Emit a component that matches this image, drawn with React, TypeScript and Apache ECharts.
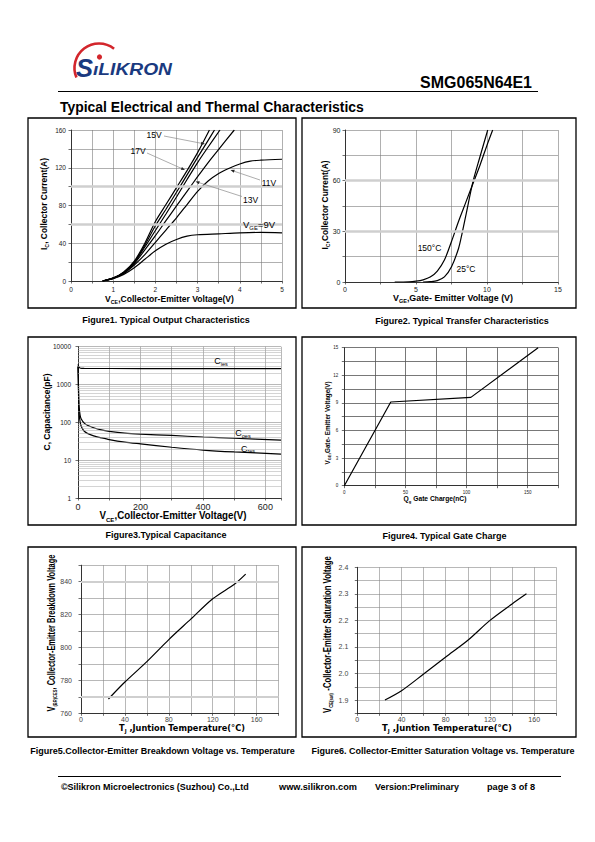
import React, { useEffect, useRef } from "react";
import * as echarts from "echarts";

const FF = '"Liberation Sans", Arial, sans-serif';
const FW = '"DejaVu Sans", Verdana, sans-serif';

// ---------- Figure 1: output characteristics (VCE [V], IC [A]) ----------
const out20V = [[0.75, 0], [1, 3], [1.25, 9.5], [1.5, 21], [1.75, 40], [2, 63], [2.25, 81], [2.5, 99], [2.75, 117], [3, 136], [3.28, 160]];
const out17V = [[0.75, 0], [1, 3], [1.25, 9], [1.5, 20], [1.75, 38], [2, 58.5], [2.25, 76], [2.5, 94], [2.75, 112.5], [3, 131], [3.25, 149], [3.4, 160]];
const out15V = [[0.75, 0], [1, 3], [1.25, 9], [1.5, 19.5], [1.75, 36], [2, 53.5], [2.25, 71], [2.5, 89], [2.75, 107.5], [3, 125.5], [3.25, 142], [3.53, 160]];
const out13V = [[0.75, 0], [1, 3], [1.25, 8.5], [1.5, 18.5], [1.75, 33], [2, 48], [2.25, 64], [2.5, 79.5], [2.75, 95], [3, 110.5], [3.25, 125.5], [3.5, 139.5], [3.87, 160]];
const out11V = [[0.75, 0], [1, 2.8], [1.25, 8], [1.5, 17], [1.75, 28], [2, 41], [2.25, 54], [2.5, 67], [2.75, 81], [3, 95], [3.25, 106], [3.5, 114], [3.75, 119.5], [4, 124], [4.25, 127], [4.5, 128], [5, 129]];
const out9V = [[0.75, 0], [1, 2.5], [1.25, 7], [1.5, 14], [1.75, 23], [2, 32], [2.25, 39], [2.5, 44], [2.75, 47.5], [3, 49], [3.5, 50], [4, 51], [4.5, 51.5], [5, 51]];
const fig1XLabels = [0, 1, 2, 3, 4, 5];
const fig1YLabels = [0, 40, 80, 120, 160];
const fig1Bands = [100, 60];

// ---------- Figure 2: transfer characteristics (VGE [V], IC [A]) ----------
const tr150C = [[3.5, 0], [4.5, 0.1], [5, 0.5], [5.5, 1.3], [6, 2.9], [6.5, 6.5], [7, 13], [7.5, 24], [8, 36], [8.5, 47], [9, 58], [9.5, 69], [10, 81], [10.4, 90]];
const tr25C = [[5.5, 0], [6, 0.2], [6.5, 0.8], [7, 3], [7.5, 9], [8, 20], [8.25, 29], [8.5, 39], [9, 59], [9.5, 74], [10, 88.5], [10.05, 90]];
const fig2XLabels = [0, 5, 10, 15];
const fig2YLabels = [0, 30, 60, 90];
const fig2Bands = [60, 30];

// ---------- Figure 3: capacitance (VCE [V], C [pF]) ----------
const capCies = [[0, 3400], [3, 2900], [8, 2700], [20, 2660], [100, 2650], [300, 2645], [650, 2640]];
const capCoes = [[0, 3000], [1, 1500], [2, 600], [3, 300], [5, 200], [7, 150], [10, 125], [20, 95], [30, 84], [50, 72], [75, 63], [100, 58], [150, 52], [200, 49], [300, 45], [400, 41], [500, 38], [650, 34]];
const capCres = [[0, 3000], [1, 1200], [2, 400], [3, 200], [5, 130], [7, 100], [10, 80], [15, 66], [20, 58], [30, 51], [50, 44], [75, 39], [100, 35], [150, 30], [200, 27], [300, 22], [400, 18.5], [500, 16.5], [650, 14.5]];
const fig3XLabels = [0, 200, 400, 600];
const fig3YLabels = [1, 10, 100, 1000, 10000];
const fig3Minor = [2, 3, 4, 5, 6, 7, 8, 9, 20, 30, 40, 50, 60, 70, 80, 90, 200, 300, 400, 500, 600, 700, 800, 900, 2000, 3000, 4000, 5000, 6000, 7000, 8000, 9000];

// ---------- Figure 4: gate charge (Qg [nC], VGE [V]) ----------
const gateCharge = [[0, 0], [38, 9.1], [103.5, 9.6], [158.5, 15]];
const fig4XLabels = [0, 50, 100, 150];
const fig4YLabels = [0, 3, 6, 9, 12, 15];

// ---------- Figure 5: breakdown voltage vs Tj ----------
const bvCes = [[25, 768.7], [40, 779], [60, 791.4], [80, 804.8], [100, 817.2], [120, 829.6], [140, 838.6], [150, 844.6]];
const fig5XLabels = [0, 40, 80, 120, 160];
const fig5YLabels = [760, 780, 800, 820, 840];
const fig5Bands = [840, 770];

// ---------- Figure 6: VCE(sat) vs Tj ----------
const vceSat = [[25, 1.9], [40, 1.935], [60, 1.998], [80, 2.062], [100, 2.125], [120, 2.2], [140, 2.262], [153, 2.3]];
const fig6XLabels = [0, 40, 80, 120, 160];
const fig6YLabels = [1.9, 2.0, 2.1, 2.2, 2.3, 2.4];

// ---------- helpers ----------
let _ctx: CanvasRenderingContext2D | null = null;
function measureW(t: string, font: string) {
  if (!_ctx) _ctx = document.createElement("canvas").getContext("2d");
  if (!_ctx) return t.length * 5;
  _ctx.font = font;
  return _ctx.measureText(t).width;
}

type Seg = string | [string];
interface TOpt {
  x: number; y: number; segs: Seg[]; size: number; bold?: boolean; italic?: boolean;
  family?: string; align?: "left" | "center" | "right"; rot?: number; w?: number; color?: string; subRatio?: number;
}
function txt(o: TOpt): any {
  const fam = o.family || FF;
  const weight = o.bold ? "bold" : "normal";
  const fst = o.italic ? "italic" : "normal";
  const subSize = o.size * (o.subRatio ?? 0.62);
  let measured = 0;
  let text = "";
  for (const s of o.segs) {
    if (typeof s === "string") {
      text += `{m|${s}}`;
      measured += measureW(s, `${fst} ${weight} ${o.size}px ${fam}`);
    } else {
      text += `{s|${s[0]}}`;
      measured += measureW(s[0], `${fst} ${weight} ${subSize}px ${fam}`);
    }
  }
  const sx = o.w && measured > 0 ? o.w / measured : 1;
  const fill = o.color || "#000";
  return {
    type: "text", x: o.x, y: o.y, rotation: o.rot || 0, scaleX: sx, scaleY: 1, z: 10,
    style: {
      text, align: o.align || "center", verticalAlign: "middle", fill,
      rich: {
        m: { fontSize: o.size, fontWeight: weight, fontStyle: fst, fontFamily: fam, fill, lineHeight: o.size * 1.3 },
        s: { fontSize: subSize, fontWeight: weight, fontStyle: fst, fontFamily: fam, fill, verticalAlign: "bottom", lineHeight: subSize },
      },
    },
  };
}

function arrow(x1: number, y1: number, x2: number, y2: number): any[] {
  const dx = x2 - x1, dy = y2 - y1, L = Math.hypot(dx, dy), ux = dx / L, uy = dy / L;
  const hl = 4, hw = 1.5;
  const bx = x2 - ux * hl, by = y2 - uy * hl;
  return [
    { type: "line", z: 10, shape: { x1, y1, x2: bx, y2: by }, style: { stroke: "#8a8a8a", lineWidth: 0.7 } },
    { type: "polygon", z: 10, shape: { points: [[x2, y2], [bx - uy * hw, by + ux * hw], [bx + uy * hw, by - ux * hw]] }, style: { fill: "#222" } },
  ];
}

function hasLabel(list: number[], v: number) {
  return list.some((l) => Math.abs(l - v) < 1e-6 * Math.max(1, Math.abs(l)));
}

function valAxis(grid: number, min: number, max: number, interval: number, labels: number[], fmt: (v: number) => string, o: any) {
  return {
    type: "value", gridIndex: grid, min, max, interval,
    axisLine: { show: true, onZero: false, lineStyle: { color: o.axisColor || "#333", width: 1 } },
    axisTick: { show: true, inside: false, length: 2.5, lineStyle: { color: o.axisColor || "#333", width: 0.7 } },
    splitLine: { show: true, lineStyle: { color: o.gridColor || "#7a7a7a", width: o.gridWidth || 0.6, type: "solid" } },
    axisLabel: {
      show: true, margin: o.margin, fontSize: o.fontSize, fontFamily: o.family || FF, color: o.labelColor || "#222",
      hideOverlap: false, showMinLabel: true, showMaxLabel: true,
      formatter: (v: number) => (hasLabel(labels, v) ? fmt(v) : ""),
    },
  };
}

const blackLine = (grid: number, data: number[][], smooth: boolean | number = 0.3) => ({
  type: "line", xAxisIndex: grid, yAxisIndex: grid, data, showSymbol: false, symbol: "none",
  smooth, clip: true, z: 3,
  lineStyle: { color: "#000", width: 1.2 },
});

const bandSeries = (grid: number, data: number[][], ys: number[], color: string, width: number) => ({
  type: "line", xAxisIndex: grid, yAxisIndex: grid, data, showSymbol: false, symbol: "none", z: 1,
  lineStyle: { opacity: 0 },
  markLine: {
    silent: true, symbol: "none", label: { show: false }, animation: false,
    lineStyle: { color, width, type: "solid" },
    data: ys.map((v) => ({ yAxis: v })),
  },
});

function buildOption(): any {
  const intFmt = (v: number) => String(Math.round(v));
  const grids = [
    { left: 71, top: 130, width: 211, height: 151 },
    { left: 345, top: 130, width: 213, height: 152 },
    { left: 78, top: 346.7, width: 203, height: 151.3 },
    { left: 344.3, top: 347.7, width: 214, height: 138 },
    { left: 81, top: 565.2, width: 197.6, height: 148.1 },
    { left: 357.3, top: 567.3, width: 199, height: 146 },
  ];

  const xAxis = [
    valAxis(0, 0, 5, 0.5, fig1XLabels, intFmt, { margin: 5, fontSize: 6.5 }),
    valAxis(1, 0, 15, 2.5, fig2XLabels, intFmt, { margin: 4, fontSize: 7 }),
    valAxis(2, 0, 650, 100, fig3XLabels, intFmt, { margin: 4, fontSize: 9, gridColor: "#8a8a8a" }),
    valAxis(3, 0, 175, 25, fig4XLabels, intFmt, { margin: 4, fontSize: 4.5, gridColor: "#555", gridWidth: 0.8 }),
    valAxis(4, 0, 180, 20, fig5XLabels, intFmt, { margin: 3, fontSize: 7, labelColor: "#444", gridColor: "#888" }),
    valAxis(5, 0, 180, 20, fig6XLabels, intFmt, { margin: 3, fontSize: 7, labelColor: "#444", gridColor: "#888" }),
  ];
  const yAxis: any[] = [
    valAxis(0, 0, 160, 20, fig1YLabels, intFmt, { margin: 5, fontSize: 6.5 }),
    valAxis(1, 0, 90, 15, fig2YLabels, intFmt, { margin: 4.5, fontSize: 7 }),
    {
      type: "log", gridIndex: 2, min: 1, max: 10000, logBase: 10,
      axisLine: { show: true, onZero: false, lineStyle: { color: "#333", width: 1 } },
      axisTick: { show: true, length: 2.5, lineStyle: { color: "#333", width: 0.7 } },
      splitLine: { show: true, lineStyle: { color: "#8a8a8a", width: 0.6 } },
      axisLabel: {
        show: true, margin: 7, fontSize: 6.5, fontFamily: FF, color: "#222", hideOverlap: false,
        formatter: (v: number) => (hasLabel(fig3YLabels, v) ? String(Math.round(v)) : ""),
      },
    },
    valAxis(3, 0, 15, 1.5, fig4YLabels, intFmt, { margin: 6, fontSize: 4.5, gridColor: "#555", gridWidth: 0.8 }),
    valAxis(4, 760, 850, 10, fig5YLabels, intFmt, { margin: 9, fontSize: 7, labelColor: "#444", gridColor: "#888" }),
    valAxis(5, 1.85, 2.4, 0.05, fig6YLabels, (v) => v.toFixed(1), { margin: 9, fontSize: 7, labelColor: "#444", gridColor: "#888" }),
  ];

  const series: any[] = [
    bandSeries(0, out9V, fig1Bands, "#cfcfcf", 2.5),
    blackLine(0, out20V), blackLine(0, out17V), blackLine(0, out15V), blackLine(0, out13V), blackLine(0, out11V), blackLine(0, out9V),
    bandSeries(1, tr25C, fig2Bands, "#cfcfcf", 2.5),
    blackLine(1, tr150C), blackLine(1, tr25C),
    bandSeries(2, capCies, fig3Minor, "#a8a8a8", 0.5),
    blackLine(2, capCies, 0.2), blackLine(2, capCoes, 0.25), blackLine(2, capCres, 0.25),
    blackLine(3, gateCharge, false),
    bandSeries(4, bvCes, fig5Bands, "#cfcfcf", 2),
    blackLine(4, bvCes, 0.3),
    blackLine(5, vceSat, 0.3),
  ];

  const PI2 = Math.PI / 2;
  const el: any[] = [];
  // logo
  el.push({ type: "arc", z: 5, shape: { cx: 99, cy: 68, r: 24.5, startAngle: (157 * Math.PI) / 180, endAngle: (308 * Math.PI) / 180, clockwise: true }, style: { stroke: "#d3262c", lineWidth: 2.6, fill: "none" } });
  el.push(txt({ x: 76, y: 68.5, segs: ["S"], size: 25, bold: true, italic: true, align: "left", color: "#1a3a80", w: 17 }));
  el.push(txt({ x: 93, y: 70, segs: ["\u0131LIKRON"], size: 16, bold: true, italic: true, align: "left", color: "#1a3a80", w: 79 }));
  el.push({ type: "circle", z: 12, shape: { cx: 99.5, cy: 57, r: 2.6 }, style: { fill: "#d3262c" } });

  // header
  el.push(txt({ x: 532, y: 82, segs: ["SMG065N64E1"], size: 16, bold: true, align: "right", w: 112 }));
  el.push({ type: "line", shape: { x1: 58, y1: 91.5, x2: 538, y2: 91.5 }, style: { stroke: "#000", lineWidth: 1 } });
  el.push(txt({ x: 60, y: 107, segs: ["Typical Electrical and Thermal Characteristics"], size: 14, bold: true, align: "left", w: 304 }));

  // boxes
  const boxes = [[28, 118, 268, 190], [302, 118, 274, 190], [28, 337, 268, 188], [302, 337, 274, 188], [28, 547, 268, 190], [302, 547, 274, 190]];
  for (const b of boxes) el.push({ type: "rect", z: 5, shape: { x: b[0], y: b[1], width: b[2], height: b[3] }, style: { fill: "none", stroke: "#000", lineWidth: 1.3 } });

  // captions
  el.push(txt({ x: 166, y: 320, segs: ["Figure1. Typical Output Characteristics"], size: 9, bold: true }));
  el.push(txt({ x: 462, y: 321, segs: ["Figure2. Typical Transfer Characteristics"], size: 9, bold: true }));
  el.push(txt({ x: 166, y: 535, segs: ["Figure3.Typical Capacitance"], size: 9, bold: true }));
  el.push(txt({ x: 444.5, y: 536, segs: ["Figure4. Typical Gate Charge"], size: 9, bold: true }));
  el.push(txt({ x: 162.5, y: 751, segs: ["Figure5.Collector-Emitter Breakdown Voltage vs. Temperature"], size: 9, bold: true }));
  el.push(txt({ x: 443, y: 751, segs: ["Figure6. Collector-Emitter Saturation Voltage vs. Temperature"], size: 9, bold: true }));

  // chart 1 texts
  el.push(txt({ x: 44, y: 204, rot: PI2, segs: ["I", ["C"], ", Collector Current(A)"], size: 8.5, bold: true, w: 92 }));
  el.push(txt({ x: 169.5, y: 299, segs: ["V", ["CE"], ",Collector-Emitter Voltage(V)"], size: 8.5, bold: true, w: 129 }));
  el.push(txt({ x: 154, y: 135, segs: ["15V"], size: 8.5 }));
  el.push(txt({ x: 138, y: 150.5, segs: ["17V"], size: 8.5 }));
  el.push(txt({ x: 269, y: 183, segs: ["11V"], size: 8.5 }));
  el.push(txt({ x: 250.5, y: 200, segs: ["13V"], size: 8.5 }));
  el.push(txt({ x: 259, y: 225.5, segs: ["V", ["GE"], "=9V"], size: 8.5, w: 32 }));
  el.push(...arrow(164, 136, 205, 144));
  el.push(...arrow(147, 153, 185, 170));
  el.push(...arrow(260, 180, 230.5, 170));
  el.push(...arrow(242, 196.5, 195.5, 181.5));

  // chart 2 texts
  el.push(txt({ x: 325, y: 205, rot: PI2, segs: ["I", ["C"], ",Collector Current(A)"], size: 8.5, bold: true, w: 89 }));
  el.push(txt({ x: 453, y: 298, segs: ["V", ["GE"], ",Gate- Emitter Voltage (V)"], size: 8.5, bold: true, w: 120 }));
  el.push(txt({ x: 429.5, y: 248, segs: ["150\u00b0C"], size: 8.5 }));
  el.push(txt({ x: 466, y: 268.7, segs: ["25\u00b0C"], size: 8.5 }));

  // chart 3 texts
  el.push(txt({ x: 47, y: 412, rot: PI2, segs: ["C, Capacitance(pF)"], size: 9, bold: true, w: 77 }));
  el.push(txt({ x: 173, y: 515.5, segs: ["V", ["CE"], ",Collector-Emitter Voltage(V)"], size: 10, bold: true, w: 147 }));
  el.push(txt({ x: 221, y: 361, segs: ["C", ["ies"]], size: 9 }));
  el.push(txt({ x: 243, y: 433, segs: ["C", ["oes"]], size: 9 }));
  el.push(txt({ x: 248, y: 448.5, segs: ["C", ["res"]], size: 9 }));

  // chart 4 texts
  el.push(txt({ x: 327, y: 423, rot: PI2, segs: ["V", ["GE"], ",Gate- Emitter Voltage(V)"], size: 6.5, bold: true, w: 83 }));
  el.push(txt({ x: 435, y: 499, segs: ["Q", ["g"], " Gate Charge(nC)"], size: 6.5, bold: true, w: 63 }));

  // chart 5 texts
  el.push(txt({ x: 52, y: 633, rot: PI2, segs: ["V", ["(BR)CES"], ", Collector-Emitter Breakdown Voltage"], size: 10, bold: true, w: 157, subRatio: 0.55 }));
  el.push(txt({ x: 182, y: 728, segs: ["T", ["J"], " ,Juntion Temperature(\u00b0C)"], size: 9, bold: true, family: FW, w: 126 }));

  // chart 6 texts
  el.push(txt({ x: 327.5, y: 634.5, rot: PI2, segs: ["V", ["CE(sat)"], " -Collector-Emitter Saturation Voltage"], size: 10, bold: true, w: 157, subRatio: 0.55 }));
  el.push(txt({ x: 447, y: 728, segs: ["T", ["J"], " ,Juntion Temperature(\u00b0C)"], size: 9, bold: true, family: FW, w: 130 }));

  // footer
  el.push({ type: "line", shape: { x1: 58, y1: 776.5, x2: 561, y2: 776.5 }, style: { stroke: "#000", lineWidth: 1 } });
  el.push(txt({ x: 61, y: 787, segs: ["\u00a9Silikron Microelectronics (Suzhou) Co.,Ltd"], size: 8.5, bold: true, align: "left", w: 188 }));
  el.push(txt({ x: 279, y: 787, segs: ["www.silikron.com"], size: 8.5, bold: true, align: "left", w: 78 }));
  el.push(txt({ x: 375, y: 787, segs: ["Version:Preliminary"], size: 8.5, bold: true, align: "left", w: 84 }));
  el.push(txt({ x: 487, y: 787, segs: ["page 3 of 8"], size: 8.5, bold: true, align: "left", w: 48 }));

  return {
    animation: false,
    backgroundColor: "#ffffff",
    grid: grids,
    xAxis,
    yAxis,
    series,
    graphic: el,
  };
}

export default function App() {
  const ref = useRef<HTMLDivElement>(null);
  useEffect(() => {
    if (!ref.current) return;
    const chart = echarts.init(ref.current, null, { renderer: "svg", width: 595, height: 842 });
    chart.setOption(buildOption());
    return () => chart.dispose();
  }, []);
  return <div ref={ref} style={{ position: "absolute", left: 0, top: 0, width: 595, height: 842, background: "#fff" }} />;
}
